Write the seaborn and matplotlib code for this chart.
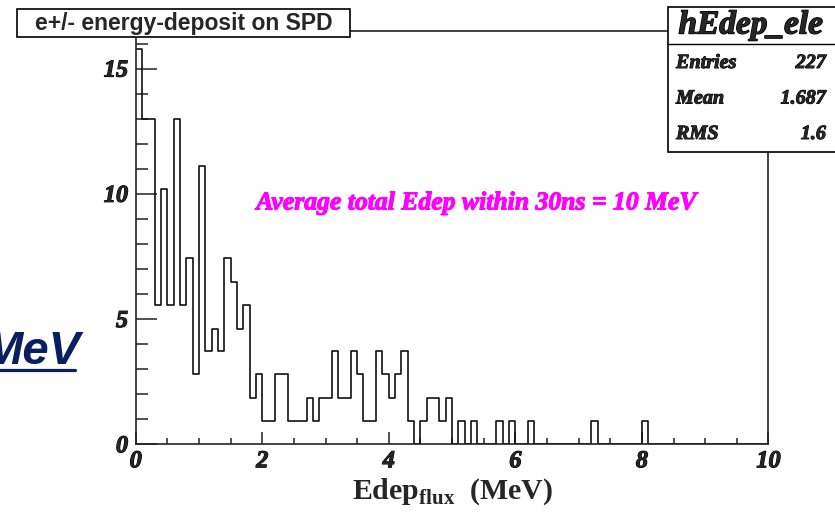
import numpy as np
import pandas as pd
import matplotlib
matplotlib.use("Agg")
import matplotlib.pyplot as plt
import matplotlib.patheffects as pe
from matplotlib.patches import Rectangle
from matplotlib.lines import Line2D
from matplotlib.ticker import MultipleLocator
import seaborn as sns

# ---- data (bin contents, bins of 0.1 MeV from 0 to 10) ----
bin_lo = np.round(np.arange(0, 10, 0.1), 2)
heights = [15.78, 12.97, 12.97, 5.57, 10.19, 5.57, 12.97, 5.57, 7.43, 2.80,
           11.10, 3.71, 4.61, 3.71, 7.43, 6.47, 4.61, 5.57, 1.84, 2.80,
           0.95, 0.95, 2.80, 2.80, 0.95, 0.95, 0.95, 1.84, 0.95, 1.84,
           1.84, 3.71, 1.84, 1.84, 3.71, 2.80, 0.95, 0.95, 3.71, 2.80,
           1.84, 2.80, 3.71, 0.95, 0.00, 0.95, 1.84, 1.84, 0.95, 1.84,
           0.00, 0.95, 0.00, 0.95, 0.00, 0.00, 0.00, 0.95, 0.00, 0.95,
           0.00, 0.00, 0.95, 0.00, 0.00, 0.00, 0.00, 0.00, 0.00, 0.00,
           0.00, 0.00, 0.95, 0.00, 0.00, 0.00, 0.00, 0.00, 0.00, 0.00,
           0.95, 0.00, 0.00, 0.00, 0.00, 0.00, 0.00, 0.00, 0.00, 0.00,
           0.00, 0.00, 0.00, 0.00, 0.00, 0.00, 0.00, 0.00, 0.00, 0.00]
x_ticks = [0, 2, 4, 6, 8, 10]
y_ticks = [0, 5, 10, 15]
hist_name = "hEdep_ele"
stat_labels = ["Entries", "Mean", "RMS"]
stat_values = ["227", "1.687", "1.6"]
title = "e+/- energy-deposit on SPD"
annotation = "Average total Edep within 30ns = 10 MeV"
xlabel = r"Edep$_{\mathbf{flux}}$  (MeV)"
side_text = "MeV"

df = pd.DataFrame({"x": bin_lo + 0.05, "w": heights})

sns.set_style("white")
plt.rcParams["font.family"] = ["Liberation Serif", "DejaVu Serif"]
plt.rcParams["mathtext.fontset"] = "custom"
plt.rcParams["mathtext.rm"] = "Liberation Serif:bold"
plt.rcParams["mathtext.bf"] = "Liberation Serif:bold"


def boldify(color="black", w=0.7):
    return [pe.withStroke(linewidth=w, foreground=color)]


fig = plt.figure(figsize=(8.35, 5.12), dpi=100)
fig.patch.set_facecolor("white")
ax = fig.add_axes([0.1625, 0.1322, 0.7578, 0.8073])

sns.histplot(data=df, x="x", weights="w", binwidth=0.1, binrange=(0, 10),
             element="step", fill=False, color="#111111", linewidth=1.2, ax=ax)

ax.set_xlim(0, 10)
ax.set_ylim(0, 16.5)
ax.set_xticks(x_ticks)
ax.set_yticks(y_ticks)
ax.xaxis.set_minor_locator(MultipleLocator(0.5))
ax.yaxis.set_minor_locator(MultipleLocator(1))
ax.set_xticklabels([str(v) for v in x_ticks])
ax.set_yticklabels([str(v) for v in y_ticks])
ax.tick_params(which="both", bottom=True, left=True, top=False, right=False)
ax.tick_params(axis="y", which="major", direction="in", length=15, width=1.1,
               pad=5.5, labelsize=17.5, color="#222222")
ax.tick_params(axis="y", which="minor", direction="in", length=8.5, width=1.1,
               color="#222222")
ax.tick_params(axis="x", which="major", direction="in", length=8.5, width=1.1,
               pad=5, labelsize=17.5, color="#222222")
ax.tick_params(axis="x", which="minor", direction="in", length=4.3, width=1.1,
               color="#222222")
for lab in ax.get_xticklabels() + ax.get_yticklabels():
    lab.set_fontweight("bold")
    lab.set_fontstyle("italic")
    lab.set_path_effects(boldify("black", 0.8))
for sp in ax.spines.values():
    sp.set_visible(True)
    sp.set_color("#222222")
    sp.set_linewidth(1.2)

ax.set_ylabel("")
ax.set_xlabel(xlabel, fontsize=21.5, fontweight="bold", labelpad=3)

# annotation in magenta
ax.text(0.539, 0.584, annotation, transform=ax.transAxes, ha="center",
        va="center", color="#ff00ff", fontsize=18.5, fontweight="bold",
        fontstyle="italic", path_effects=boldify("#ff00ff", 0.8))

W, H = 835.0, 512.0

# title box
fig.add_artist(Rectangle((17 / W, 1 - 37 / H), (350 - 17) / W, 28 / H,
                         transform=fig.transFigure, facecolor="white",
                         edgecolor="black", linewidth=1.2, zorder=5))
fig.text(183.5 / W, 1 - 23.5 / H, title, ha="center", va="center",
         fontsize=16.5, fontweight="bold", family="Liberation Sans", zorder=6)

# stat box
fig.add_artist(Rectangle((668 / W, 1 - 152 / H), 0.3, (152 - 7) / H,
                         transform=fig.transFigure, facecolor="white",
                         edgecolor="black", linewidth=1.2, zorder=5))
fig.add_artist(Line2D([668 / W, 1.0], [1 - 44 / H, 1 - 44 / H],
                      transform=fig.transFigure, color="black",
                      linewidth=1.0, zorder=6))
fig.text(751 / W, 1 - 25 / H, hist_name, ha="center", va="center",
         fontsize=24, fontweight="bold", fontstyle="italic", zorder=7,
         path_effects=boldify("black", 1.0))
for i, (lab, val) in enumerate(zip(stat_labels, stat_values)):
    yy = 1 - (63 + 35.5 * i) / H
    fig.text(676 / W, yy, lab, ha="left", va="center", fontsize=14.5,
             fontweight="bold", fontstyle="italic", zorder=7,
             path_effects=boldify("black", 0.7))
    fig.text(826 / W, yy, val, ha="right", va="center", fontsize=14.5,
             fontweight="bold", fontstyle="italic", zorder=7,
             path_effects=boldify("black", 0.7))

# cut-off slide text on the left
fig.text(80 / W, 1 - 364 / H, side_text, ha="right", va="baseline",
         fontsize=34, fontweight="bold", fontstyle="italic",
         family="Liberation Sans", color="#0b1f5e")
fig.add_artist(Line2D([0, 75 / W], [1 - 370 / H, 1 - 370 / H],
                      transform=fig.transFigure, color="#0b1f5e",
                      linewidth=2.3))

fig.savefig("out.png", dpi=100)
